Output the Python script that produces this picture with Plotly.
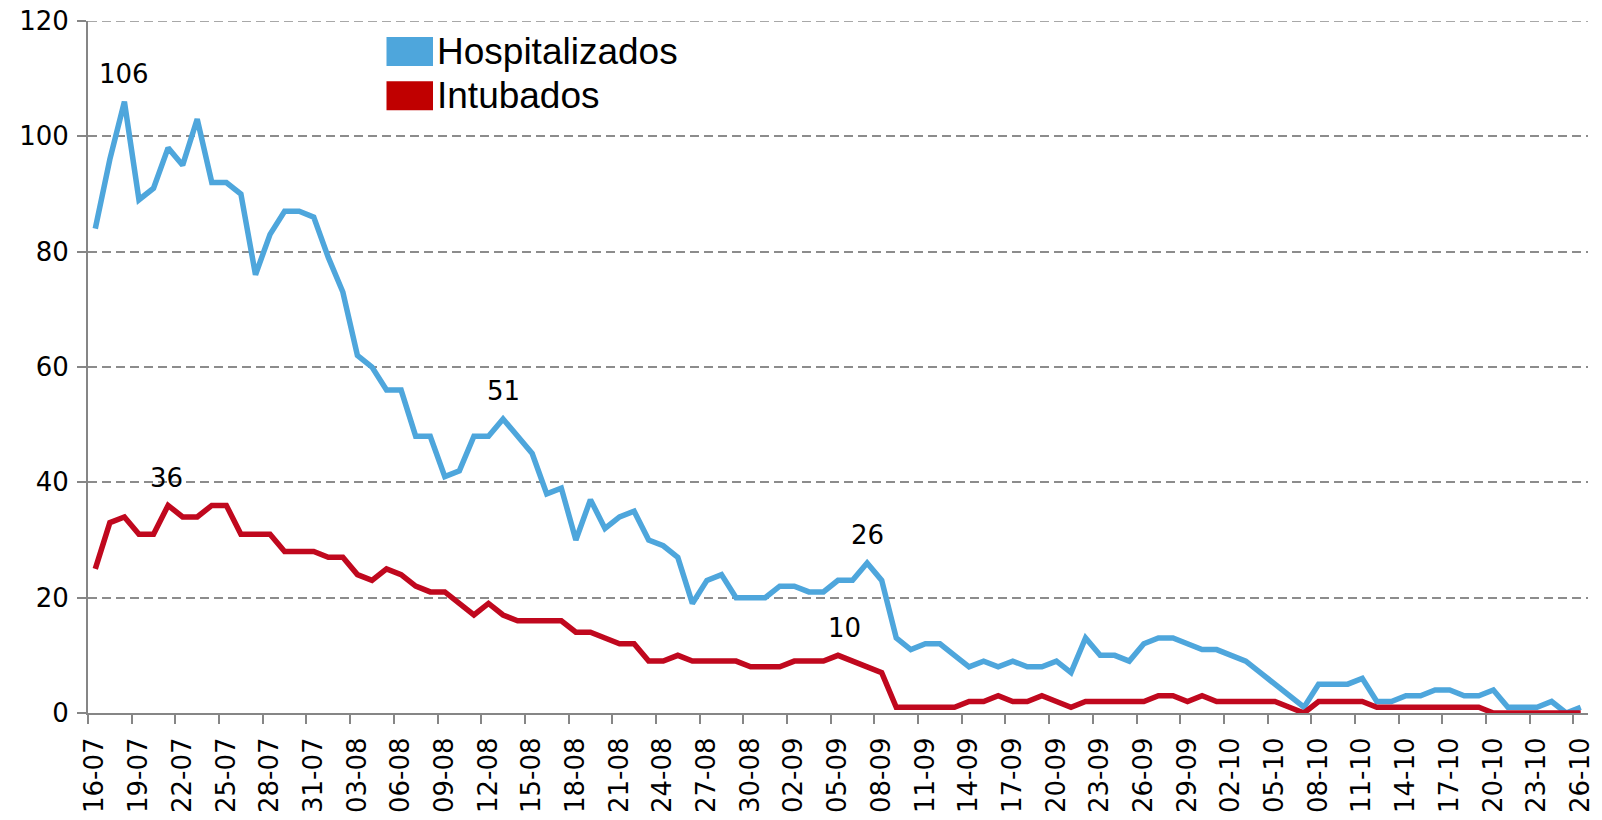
import plotly.graph_objects as go

# --- DATA ---
# daily values from 16-07 to 26-10
days = ['16-07', '17-07', '18-07', '19-07', '20-07', '21-07', '22-07', '23-07', '24-07', '25-07',
        '26-07', '27-07', '28-07', '29-07', '30-07', '31-07',
        '01-08', '02-08', '03-08', '04-08', '05-08', '06-08', '07-08', '08-08', '09-08', '10-08',
        '11-08', '12-08', '13-08', '14-08', '15-08', '16-08', '17-08', '18-08', '19-08', '20-08',
        '21-08', '22-08', '23-08', '24-08', '25-08', '26-08', '27-08', '28-08', '29-08', '30-08', '31-08',
        '01-09', '02-09', '03-09', '04-09', '05-09', '06-09', '07-09', '08-09', '09-09', '10-09',
        '11-09', '12-09', '13-09', '14-09', '15-09', '16-09', '17-09', '18-09', '19-09', '20-09',
        '21-09', '22-09', '23-09', '24-09', '25-09', '26-09', '27-09', '28-09', '29-09', '30-09',
        '01-10', '02-10', '03-10', '04-10', '05-10', '06-10', '07-10', '08-10', '09-10', '10-10',
        '11-10', '12-10', '13-10', '14-10', '15-10', '16-10', '17-10', '18-10', '19-10', '20-10',
        '21-10', '22-10', '23-10', '24-10', '25-10', '26-10']

hospitalizados = [84, 96, 106, 89, 91, 98, 95, 103, 92, 92,
                  90, 76, 83, 87, 87, 86, 79, 73, 62, 60,
                  56, 56, 48, 48, 41, 42, 48, 48, 51, 48,
                  45, 38, 39, 30, 37, 32, 34, 35, 30, 29,
                  27, 19, 23, 24, 20, 20, 20, 22, 22, 21,
                  21, 23, 23, 26, 23, 13, 11, 12, 12, 10,
                  8, 9, 8, 9, 8, 8, 9, 7, 13, 10,
                  10, 9, 12, 13, 13, 12, 11, 11, 10, 9,
                  7, 5, 3, 1, 5, 5, 5, 6, 2, 2,
                  3, 3, 4, 4, 3, 3, 4, 1, 1, 1,
                  2, 0, 1]

intubados = [25, 33, 34, 31, 31, 36, 34, 34, 36, 36,
             31, 31, 31, 28, 28, 28, 27, 27, 24, 23,
             25, 24, 22, 21, 21, 19, 17, 19, 17, 16,
             16, 16, 16, 14, 14, 13, 12, 12, 9, 9,
             10, 9, 9, 9, 9, 8, 8, 8, 9, 9,
             9, 10, 9, 8, 7, 1, 1, 1, 1, 1,
             2, 2, 3, 2, 2, 3, 2, 1, 2, 2,
             2, 2, 2, 3, 3, 2, 3, 2, 2, 2,
             2, 2, 1, 0, 2, 2, 2, 2, 1, 1,
             1, 1, 1, 1, 1, 1, 0, 0, 0, 0,
             0, 0, 0]

# labelled points (series, day)
labels_hosp = ['18-07', '13-08', '07-09']
labels_intu = ['21-07', '05-09']

y_ticks = [0, 20, 40, 60, 80, 100, 120]
tick_step = 3

blue = '#4EA6DC'
red = '#C0081E'
grid_col = '#8C8C8C'
font_ticks = 'DejaVu Sans'
font_legend = 'Liberation Sans, Arial'

idx = list(range(len(days)))

fig = go.Figure()

fig.add_trace(go.Scatter(x=idx, y=hospitalizados, mode='lines', name='Hospitalizados',
                         line=dict(color=blue, width=5.5), showlegend=False))
fig.add_trace(go.Scatter(x=idx, y=intubados, mode='lines', name='Intubados',
                         line=dict(color=red, width=5.5), showlegend=False))

# Data labels
for d in labels_hosp:
    i = days.index(d)
    fig.add_annotation(x=i, y=hospitalizados[i], text=str(hospitalizados[i]), showarrow=False,
                       yshift=28, font=dict(family=font_ticks, size=26, color='black'))
for d in labels_intu:
    i = days.index(d)
    fig.add_annotation(x=i, y=intubados[i], text=str(intubados[i]), showarrow=False,
                       yshift=27, xshift=6 if intubados[i] < 20 else -2,
                       font=dict(family=font_ticks, size=26, color='black'))

# Category style x axis: ticks on boundaries, every 3 days
tick_idx = idx[::tick_step]
fig.update_xaxes(
    range=[-0.5, len(days) - 0.5],
    tickmode='array',
    tickvals=[i - 0.5 for i in tick_idx],
    ticktext=[days[i] for i in tick_idx],
    tickangle=-90,
    ticklabelshift=7,
    ticklabelstandoff=3,
    ticklabeloverflow='allow',
    ticks='outside', ticklen=9, tickwidth=2, tickcolor='#868686',
    showline=True, linecolor='#868686', linewidth=2,
    showgrid=False, zeroline=False, automargin=False,
    tickfont=dict(family=font_ticks, size=26, color='black'),
)
fig.update_yaxes(
    range=[0, 120],
    tickvals=y_ticks,
    ticks='outside', ticklen=9, tickwidth=2, tickcolor='#868686',
    ticklabelstandoff=3,
    ticklabeloverflow='allow',
    showline=True, linecolor='#868686', linewidth=2,
    showgrid=True, gridcolor=grid_col, gridwidth=1.5, griddash='9px,5px',
    zeroline=False, automargin=False,
    tickfont=dict(family=font_ticks, size=26, color='black'),
)

# top gridline (plotly drops the grid line at the range edge)
fig.add_shape(type='line', xref='paper', yref='y', x0=0, x1=1, y0=y_ticks[-1], y1=y_ticks[-1],
              line=dict(color=grid_col, width=1.5, dash='9px,5px'), layer='below')

# Legend drawn by hand (large filled swatches)
legend_items = [('Hospitalizados', blue, 0.977, 0.935), ('Intubados', '#C00000', 0.913, 0.871)]
for name, col, y1, y0 in legend_items:
    fig.add_shape(type='rect', xref='paper', yref='paper', x0=0.199, x1=0.230, y0=y0, y1=y1,
                  fillcolor=col, line=dict(width=0))
    fig.add_annotation(xref='paper', yref='paper', x=0.2315, y=(y0 + y1) / 2, text=name,
                       xanchor='left', yanchor='middle', showarrow=False,
                       font=dict(family=font_legend, size=37, color='black'))

# page body adds an 8px offset, so the figure is sized to fit inside the window
fig.update_layout(
    width=1594, height=812,
    margin=dict(l=80, r=14, t=13, b=107),
    plot_bgcolor='white', paper_bgcolor='white',
)

fig.write_html('out.html')
